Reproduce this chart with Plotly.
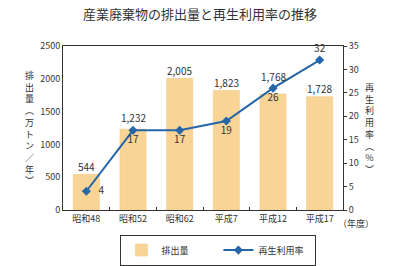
import plotly.graph_objects as go

categories = ["昭和48", "昭和52", "昭和62", "平成7", "平成12", "平成17"]
emissions = [544, 1232, 2005, 1823, 1768, 1728]
recycle_rate = [4, 17, 17, 19, 26, 32]
rate_label_pos = ["middle right", "bottom center", "bottom center", "bottom center", "bottom center", "top center"]
emission_label_shift = [8, 12, 8, 8, 18, 8]

FONT = "Noto Sans CJK JP"

fig = go.Figure()
fig.add_trace(go.Bar(
    x=categories, y=emissions, name="排出量",
    marker=dict(color="#F8D596", line=dict(color="#F2C576", width=0.5)),
    width=0.56,
))
fig.add_trace(go.Scatter(
    x=categories, y=recycle_rate, name="再生利用率", yaxis="y2",
    mode="lines+markers+text",
    line=dict(color="#2565A8", width=2),
    marker=dict(symbol="diamond", size=7, color="#2565A8"),
    text=[("   " if p == "middle right" else "") + str(v) for v, p in zip(recycle_rate, rate_label_pos)],
    textposition=rate_label_pos,
    textfont=dict(size=10, color="#333"), cliponaxis=False,
))
for c, v, s in zip(categories, emissions, emission_label_shift):
    fig.add_annotation(x=c, y=v, text=f"{v:,}", showarrow=False, yshift=s,
                       yanchor="middle", font=dict(size=10, color="#333"))

fig.update_layout(
    width=400, height=266,
    margin=dict(l=63, r=57, t=46, b=56, autoexpand=False),
    paper_bgcolor="white", plot_bgcolor="white",
    font=dict(family=FONT, size=9, color="#333"),
    title=dict(text="産業廃棄物の排出量と再生利用率の推移", x=0.5, xanchor="center",
               y=0.945, yanchor="middle", font=dict(size=13, color="#333", family=FONT)),
    xaxis=dict(showline=True, linecolor="#333", linewidth=1, mirror=True,
               ticks="inside", tickson="boundaries", ticklen=3, tickcolor="#333",
               tickfont=dict(size=9), showgrid=False),
    yaxis=dict(range=[0, 2500], dtick=500, showline=True, linecolor="#333",
               showgrid=False, ticks="", tickfont=dict(size=9), zeroline=False),
    yaxis2=dict(range=[0, 35], dtick=5, overlaying="y", side="right",
                showline=True, linecolor="#333", showgrid=False, ticks="outside",
                ticklen=3, tickcolor="#333", tickfont=dict(size=9), zeroline=False),
    legend=dict(orientation="h", x=0.555, xanchor="center", y=-0.15, yanchor="top",
                bordercolor="#333", borderwidth=1, font=dict(size=9),
                itemwidth=30, entrywidth=52, tracegroupgap=0),
    bargap=0.44,
    showlegend=True,
)

fig.add_annotation(text="<br>".join("排出量︵万トン／年︶"), xref="paper", yref="paper",
                   x=-0.12, y=0.5, showarrow=False, font=dict(size=9, color="#333"),
                   xanchor="center", yanchor="middle")
fig.add_annotation(text="<br>".join("再生利用率︵%︶"), xref="paper", yref="paper",
                   x=1.095, y=0.5, showarrow=False, font=dict(size=9, color="#333"),
                   xanchor="center", yanchor="middle")
fig.add_annotation(text="（年度）", xref="paper", yref="paper", x=1.046, y=-0.03,
                   showarrow=False, font=dict(size=9, color="#333"),
                   xanchor="center", yanchor="top")

fig.write_html("out.html")
